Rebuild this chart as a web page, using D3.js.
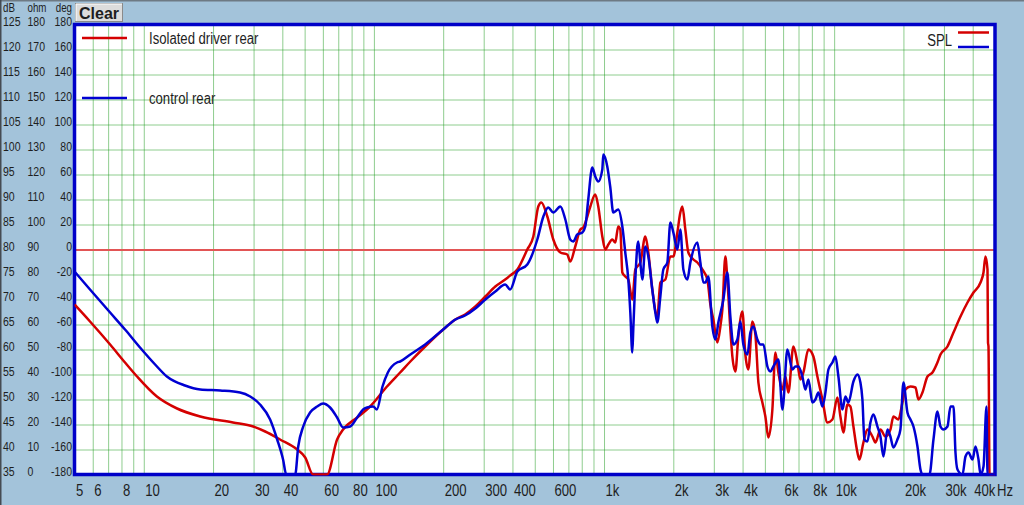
<!DOCTYPE html>
<html><head><meta charset="utf-8">
<script src="https://cdn.jsdelivr.net/npm/d3@7"></script>
<style>
html,body{margin:0;padding:0;background:#a3c3da;overflow:hidden}
svg{display:block}
text{font-family:"Liberation Sans",Arial,sans-serif;fill:#1e1e1e}
</style></head><body>
<svg id="c" width="1024" height="505"></svg>
<script>
// ---------- data ----------
const xTickValues = [5,6,8,10,20,30,40,60,80,100,200,300,400,600,1000,2000,3000,4000,6000,8000,10000,20000,30000,40000];
const dbTicks  = [125,120,115,110,105,100,95,90,85,80,75,70,65,60,55,50,45,40,35];
const ohmTicks = [180,170,160,150,140,130,120,110,100,90,80,70,60,50,40,30,20,10,0];
const degTicks = [180,160,140,120,100,80,60,40,20,0,-20,-40,-60,-80,-100,-120,-140,-160,-180];
const seriesNames = ["Isolated driver rear","control rear"];
const referenceDb = 80;

// [frequency Hz, SPL dB]
const isolatedRear = [
[5,69],[5.84,65.6],[7.14,61],[8.29,57.4],[9.35,54.6],[11.4,50.6],[13.95,48.2],[17.6,46.6],[24.4,45.4],[29.9,44.6],[33.7,43.6],[39.1,42],[46.4,40],[50.3,38.4],[54.4,35],[62.6,35],[69.2,42],[73.5,44],[84.6,46.4],[96.3,48.6],[114,52.6],[130,55.4],[144,57.6],[167,60.6],[200,64],[226,66],[249,67],[276,68.6],[305,70.6],[337,72.6],[372,74],[391,74.8],[420,76],[464,80],[493,82.6],[518,88.6],[534,89.4],[567,86.6],[602,82],[646,79.4],[692,79],[713,77.6],[750,80.6],[789,84],[813,84.4],[846,86.6],[872,88.6],[916,91],[944,88.6],[983,82.6],[1013,80],[1044,81],[1086,82],[1119,81.4],[1153,84.6],[1177,84],[1201,75.4],[1237,74.6],[1275,74],[1327,70],[1368,76],[1438,77.4],[1512,82.6],[1558,79.4],[1621,72],[1705,66.6],[1757,73.4],[1847,74],[1942,78.6],[2001,78.6],[2083,83.4],[2146,87.4],[2190,88.6],[2256,84],[2325,79.4],[2444,78],[2544,77.4],[2675,76],[2812,74],[2898,69],[2986,66],[3108,61.4],[3203,64.6],[3268,68],[3367,78.6],[3435,74],[3540,64],[3612,58.6],[3722,55.6],[3835,62.6],[3992,67.6],[4113,59],[4239,56],[4412,65.6],[4547,63],[4686,53.4],[4877,49.4],[5025,46.6],[5178,42.4],[5390,48],[5554,59.4],[5724,55.4],[5958,52],[6139,54.6],[6326,51.4],[6650,60.6],[6922,57.4],[7133,54],[7351,55.4],[7728,60],[8125,58.6],[8457,54.6],[8891,50],[9348,45.4],[9827,46],[10331,50.4],[10647,46.6],[10971,43.4],[11419,49],[11769,48.6],[12127,44.6],[12623,39.4],[12877,38],[13402,41.4],[13950,44],[14666,42.6],[15112,41.4],[15887,44],[16700,42.6],[17557,44],[18092,46.6],[19022,46],[19799,49.4],[20403,52],[21458,52.6],[22560,52.4],[23247,50],[24195,51.4],[25437,54.6],[26743,55.4],[28104,57.4],[28973,59],[31076,60.6],[33002,63.4],[35397,66.6],[37967,69.4],[40318,71.4],[43245,73.4],[44565,75.4],[45465,78.6],[46384,76],[46617,61.4],[46850,60.6],[47321,35],[50000,35]
];
const controlRear = [
[5,75.6],[5.84,72],[7.14,67.4],[8.29,64],[9.63,60.4],[11.2,57],[12.6,54.6],[15.1,52.8],[17.6,52],[21.5,51.8],[26.2,51.4],[29,50.6],[32,49],[35.4,46],[38,42],[40.3,38],[41.6,35],[45.5,35],[46.9,40.6],[49.3,44.6],[52.8,47.4],[56.7,48.6],[60.2,49.2],[64.5,48.4],[69.2,46.4],[73.5,44.4],[78.9,44.6],[84.6,46.4],[89.8,48],[93.5,48.4],[99.3,48.6],[103,48],[109,52.6],[115,55.4],[126,57.4],[130,57.6],[144,59],[167,61],[200,64],[226,66],[249,66.8],[276,68.2],[305,70],[337,71.6],[372,73],[391,72],[420,75.6],[464,77],[513,82],[545,86.6],[572,88.4],[602,87.4],[646,88.6],[679,86],[713,82],[735,81.6],[765,83],[805,83.4],[829,84.6],[854,90],[889,96.4],[916,94.6],[944,93.6],[983,96],[993,99],[1033,96.6],[1065,92.4],[1097,87.4],[1153,88],[1201,84.6],[1237,79.4],[1275,74],[1301,67.4],[1327,59.4],[1340,64],[1368,74],[1395,80.6],[1409,81.6],[1438,77.4],[1467,74],[1512,80.6],[1558,78.6],[1621,72],[1671,67.4],[1705,65.4],[1757,70.6],[1810,76],[1884,77.4],[1942,85.4],[2001,83.4],[2083,80],[2146,84],[2212,76],[2302,74],[2372,77.4],[2544,81.4],[2622,77.4],[2702,73.4],[2756,73.4],[2840,74.6],[2956,64.6],[3047,62],[3139,65.4],[3301,70],[3435,75.4],[3540,66.6],[3648,61],[3797,62],[3913,65.6],[4032,61],[4197,59],[4325,63.4],[4457,64.6],[4639,62],[4780,61],[4926,61],[5127,56.6],[5283,55.6],[5444,56.6],[5724,58],[5958,48],[6017,49.4],[6263,60],[6584,56],[6785,56.6],[6992,56.6],[7278,54.6],[7499,52],[7728,54],[8044,49.4],[8289,50],[8542,51.4],[8891,48.6],[9163,51.4],[9442,56],[9827,57.4],[10127,58.6],[10435,54.6],[10862,48],[11193,50.6],[11535,49.4],[12127,53.6],[12623,55],[13006,53.4],[13269,50],[13537,42],[13950,41.6],[14375,45.4],[14813,47],[15418,44.6],[15887,42.6],[16371,38.6],[17039,44],[17557,42.6],[18092,40.4],[18832,42],[19406,44],[19998,53.4],[20816,47.4],[21458,46],[22112,44.6],[23016,40.6],[23716,36],[24195,35],[25951,35],[27012,42],[28104,47.6],[28973,44.6],[29856,44],[31076,44.6],[32025,48.6],[33002,48.6],[33669,39.4],[34350,36],[36113,35],[37215,38.6],[38349,39.4],[39916,38],[41132,40.6],[42387,38],[43245,35],[44565,36.6],[45923,48.6],[46384,35],[50000,35]
];

// ---------- layout ----------
const W = 1024, H = 505;
const NF = 0.82; // horizontal condensation of the UI font
const plot = {l: 74.5, r: 995, t: 24.5, b: 474.5};
const x = d3.scaleLog().domain([5, 50000]).range([plot.l, plot.r]);
const y = d3.scaleLinear().domain([35, 125]).range([plot.b, plot.t]);
const RED = "#d40000", BLUE = "#0000d2", GRID = "#1e9a1e", BORDER = "#0000c8";

const svg = d3.select("#c");
svg.append("rect").attr("width", W).attr("height", H).attr("fill", "#a3c3da");
svg.append("rect").attr("x", 0).attr("y", 0).attr("width", W).attr("height", 1.5).attr("fill", "#6e7a84");
svg.append("rect").attr("x", 0).attr("y", 0).attr("width", 1.5).attr("height", H).attr("fill", "#454b52");

svg.append("rect").attr("x", plot.l).attr("y", plot.t)
  .attr("width", plot.r - plot.l).attr("height", plot.b - plot.t).attr("fill", "#fff");

// narrow text helper
function ntext(parent, tx, ty, str, size, anchor, nf) {
  return parent.append("text")
    .attr("transform", `translate(${tx},${ty}) scale(${nf || NF},1)`)
    .attr("dy", "0.35em").attr("text-anchor", anchor || "start")
    .style("font-size", size + "px").text(str);
}

// grid
const gridFreqs = [];
[1, 10, 100, 1000, 10000].forEach(d => { for (let k = 1; k < 10; k++) { const f = k * d; if (f > 5 && f < 50000) gridFreqs.push(f); } });
const gridDb = dbTicks.filter(v => v > 35 && v < 125);

const gx = svg.append("g").attr("transform", `translate(0,${plot.b})`)
  .call(d3.axisBottom(x).tickValues(gridFreqs).tickSize(-(plot.b - plot.t)).tickFormat(""));
gx.select(".domain").remove();
gx.selectAll("line").attr("stroke", GRID).attr("stroke-width", 1).attr("stroke-dasharray", "1,1");

const gy = svg.append("g").attr("transform", `translate(${plot.l},0)`)
  .call(d3.axisLeft(y).tickValues(gridDb).tickSize(-(plot.r - plot.l)).tickFormat(""));
gy.select(".domain").remove();
gy.selectAll("line").attr("stroke", GRID).attr("stroke-width", 1).attr("stroke-dasharray", "1,1");

// reference line
svg.append("line").attr("x1", plot.l).attr("x2", plot.r)
  .attr("y1", y(referenceDb) + 0.5).attr("y2", y(referenceDb) + 0.5)
  .attr("stroke", "#e25555").attr("stroke-width", 2);

// border
svg.append("rect").attr("x", plot.l).attr("y", plot.t)
  .attr("width", plot.r - plot.l).attr("height", plot.b - plot.t)
  .attr("fill", "none").attr("stroke", BORDER).attr("stroke-width", 3.5);

// curves
svg.append("clipPath").attr("id", "pc").append("rect")
  .attr("x", plot.l).attr("y", plot.t - 2).attr("width", plot.r - plot.l).attr("height", plot.b - plot.t + 3);
const line = d3.line().x(d => x(d[0])).y(d => y(Math.max(35, d[1]))).curve(d3.curveMonotoneX);
const curves = svg.append("g").attr("clip-path", "url(#pc)");
curves.append("path").datum(isolatedRear).attr("d", line)
  .attr("fill", "none").attr("stroke", RED).attr("stroke-width", 2.5).attr("stroke-linejoin", "round");
curves.append("path").datum(controlRear).attr("d", line)
  .attr("fill", "none").attr("stroke", BLUE).attr("stroke-width", 2.5).attr("stroke-linejoin", "round");

// bottom axis labels
const fmtHz = d => d >= 1000 ? (d / 1000) + "k" : String(d);
const ax = svg.append("g").attr("transform", "translate(0,490)")
  .call(d3.axisBottom(x).tickValues(xTickValues).tickFormat(fmtHz).tickSize(0));
ax.select(".domain").remove();
ax.selectAll("text").attr("y", 0).attr("dy", "0.35em").attr("x", 1 / NF)
  .attr("transform", `scale(${NF},1)`)
  .attr("text-anchor", "start").style("font-size", "16px")
  .style("font-family", '"Liberation Sans",Arial,sans-serif').attr("fill", "#1e1e1e");
ntext(svg, 997, 490, "Hz", 16);

// left columns
const LNF = 0.78;
function leftCol(values, tx, anchor) {
  const g = svg.append("g").attr("transform", `translate(${tx},-3)`)
    .call(d3.axisLeft(y).tickValues(dbTicks).tickFormat((d, i) => values[i]).tickSize(0).tickPadding(0));
  g.select(".domain").remove();
  g.selectAll("text").attr("x", 0).attr("text-anchor", anchor)
    .attr("transform", `scale(${LNF},1)`)
    .style("font-size", "13.5px")
    .style("font-family", '"Liberation Sans",Arial,sans-serif').attr("fill", "#1e1e1e");
}
leftCol(dbTicks, 3, "start");
leftCol(ohmTicks, 27.5, "start");
leftCol(degTicks, 72, "end");
ntext(svg, 3, 7.5, "dB", 12.5, "start", LNF);
ntext(svg, 27.5, 7.5, "ohm", 12.5, "start", LNF);
ntext(svg, 72, 7.5, "deg", 12.5, "end", LNF);

// Clear button
svg.append("rect").attr("x", 75.5).attr("y", 3.5).attr("width", 47).attr("height", 18)
  .attr("fill", "#dcdcdc").attr("stroke", "#8a8a8a").attr("stroke-width", 1);
svg.append("line").attr("x1", 76).attr("x2", 122).attr("y1", 4).attr("y2", 4).attr("stroke", "#fff");
svg.append("line").attr("x1", 76).attr("x2", 76).attr("y1", 4).attr("y2", 21).attr("stroke", "#fff");
svg.append("text").attr("x", 99).attr("y", 13).attr("dy", "0.36em").attr("text-anchor", "middle")
  .style("font-weight", "bold").style("font-size", "16px").attr("fill", "#000").text("Clear");

// legends
const legends = [{name: seriesNames[0], color: RED, ly: 38}, {name: seriesNames[1], color: BLUE, ly: 98}];
legends.forEach(l => {
  svg.append("line").attr("x1", 82).attr("x2", 127).attr("y1", l.ly).attr("y2", l.ly)
    .attr("stroke", l.color).attr("stroke-width", 2.5);
  ntext(svg, 149, l.ly, l.name, 16);
});
ntext(svg, 952, 40, "SPL", 16, "end");
svg.append("line").attr("x1", 958).attr("x2", 989).attr("y1", 32.5).attr("y2", 32.5).attr("stroke", RED).attr("stroke-width", 2.5);
svg.append("line").attr("x1", 958).attr("x2", 989).attr("y1", 47).attr("y2", 47).attr("stroke", BLUE).attr("stroke-width", 2.5);
</script>
</body></html>
